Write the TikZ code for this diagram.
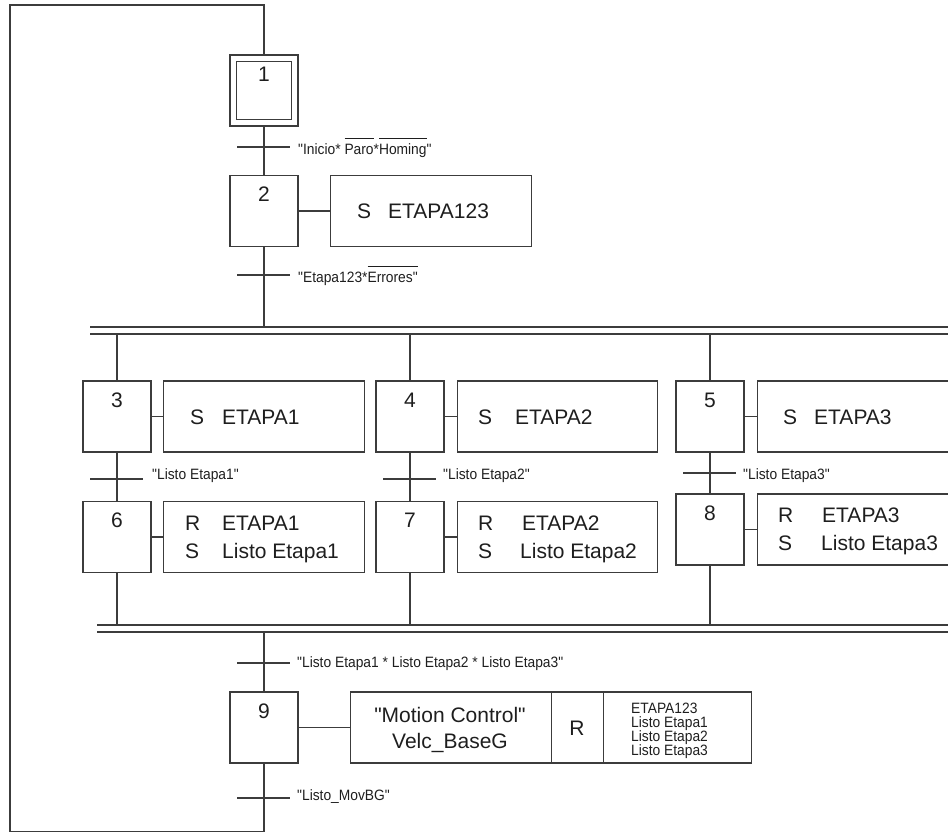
\documentclass[tikz,border=0pt]{standalone}
\usepackage{fontspec}
\setmainfont{Liberation Sans}[Ligatures=TeXOff]
\newfontfamily\narrowfont{Liberation Sans}[Ligatures=TeXOff, FakeStretch=0.92]
\definecolor{ln}{HTML}{3C3C3C}
\definecolor{tx}{HTML}{1E1E1E}
\newcommand\bigf{\fontsize{21}{25}\selectfont}
\newcommand\smallf{\narrowfont\fontsize{15}{15}\selectfont}
\newsavebox\ovlbox
\newcommand\ovl[2][16pt]{\sbox\ovlbox{#2}\rlap{\rule[#1]{\wd\ovlbox}{0.8pt}}\usebox\ovlbox}
\begin{document}
\begin{tikzpicture}[x=1pt,y=-1pt,
  wire/.style={draw=ln, line width=1.3pt},
  stepbox/.style={wire, rectangle, minimum width=68pt, minimum height=71pt, inner sep=0pt,
    text=tx, font=\bigf, text height=15pt, text depth=34pt},
  actbox/.style={wire, rectangle, anchor=west, minimum height=71pt, inner sep=0pt},
  big/.style={text=tx, font=\bigf, inner sep=0pt, anchor=base west},
  small/.style={text=tx, font=\smallf, inner sep=0pt, anchor=base west},
  tick/.style={wire}
]
\useasboundingbox (0,0) rectangle (948,833);
\begin{scope}
\clip (0,0) rectangle (948,833);

% ---------- steps ----------
\node[stepbox] (s1) at (264,90.5) {1};
\draw[wire] ([shift={(7pt,-7pt)}]s1.north west) rectangle ([shift={(-7pt,7pt)}]s1.south east);
\node[stepbox] (s2) at (264,211) {2};
\node[stepbox] (s3) at (117,416.5) {3};
\node[stepbox] (s4) at (410,416.5) {4};
\node[stepbox] (s5) at (710,416.5) {5};
\node[stepbox] (s6) at (117,537) {6};
\node[stepbox] (s7) at (410,537) {7};
\node[stepbox] (s8) at (710,529.5) {8};
\node[stepbox] (s9) at (264,727.5) {9};

% ---------- action boxes ----------
\node[actbox, minimum width=201pt] (a2) at (330,211) {};
\node[actbox, minimum width=201pt] (a3) at (163,416.5) {};
\node[actbox, minimum width=200pt] (a4) at (457,416.5) {};
\node[actbox, minimum width=220pt] (a5) at (757,416.5) {};
\node[actbox, minimum width=201pt] (a6) at (163,537) {};
\node[actbox, minimum width=200pt] (a7) at (457,537) {};
\node[actbox, minimum width=220pt] (a8) at (757,529.5) {};
\node[actbox, minimum width=201pt] (a9) at (350,727.5) {};
\node[actbox, minimum width=52pt] (a9r) at (551,727.5) {};
\node[actbox, minimum width=148pt] (a9l) at (603,727.5) {};

\foreach \s/\a in {s2/a2,s3/a3,s4/a4,s5/a5,s6/a6,s7/a7,s8/a8,s9/a9}
  \draw[wire] (\s.east) -- (\a.west);

% ---------- action texts ----------
\node[big] (x2a) at (357,218.5) {S};
\node[big] (x2b) at (388,218.5) {ETAPA123};
\node[big] (x3a) at (190,424) {S};
\node[big] (x3b) at (222,424) {ETAPA1};
\node[big] (x4a) at (478,424) {S};
\node[big] (x4b) at (515,424) {ETAPA2};
\node[big] (x5a) at (783,424) {S};
\node[big] (x5b) at (814,424) {ETAPA3};
\node[big] (x6a) at (185,530) {R};
\node[big] (x6b) at (222,530) {ETAPA1};
\node[big] (x6c) at (185,558) {S};
\node[big] (x6d) at (222,558) {Listo Etapa1};
\node[big] (x7a) at (478,530) {R};
\node[big] (x7b) at (522,530) {ETAPA2};
\node[big] (x7c) at (478,558) {S};
\node[big] (x7d) at (520,558) {Listo Etapa2};
\node[big] (x8a) at (778,522) {R};
\node[big] (x8b) at (822,522) {ETAPA3};
\node[big] (x8c) at (778,550) {S};
\node[big] (x8d) at (821,550) {Listo Etapa3};
\node[big, anchor=base] (x9a) at (450,722) {"Motion Control"};
\node[big, anchor=base] (x9b) at (450,748) {Velc\_BaseG};
\node[big, anchor=base] (x9r) at (577,735) {R};
\node[small] (x9c) at (631,713) {ETAPA123};
\node[small] (x9d) at (631,727) {Listo Etapa1};
\node[small] (x9e) at (631,741) {Listo Etapa2};
\node[small] (x9f) at (631,755) {Listo Etapa3};

% ---------- divergence / convergence bars ----------
\coordinate (ub1) at (90,327);
\coordinate (ub2) at (90,334);
\coordinate (lb1) at (97,625);
\coordinate (lb2) at (97,632);
\draw[wire] (ub1) -- (948,327);
\draw[wire] (ub2) -- (948,334);
\draw[wire] (lb1) -- (948,625);
\draw[wire] (lb2) -- (948,632);

% ---------- links ----------
\draw[wire] (s1.south) -- (s2.north);
\draw[wire] (s2.south) -- (s2.south |- ub1);
\foreach \s in {s3,s4,s5} \draw[wire] (\s.north |- ub2) -- (\s.north);
\draw[wire] (s3.south) -- (s6.north);
\draw[wire] (s4.south) -- (s7.north);
\draw[wire] (s5.south) -- (s8.north);
\foreach \s in {s6,s7,s8} \draw[wire] (\s.south) -- (\s.south |- lb1);
\draw[wire] (s9.north |- lb2) -- (s9.north);
\coordinate (bl) at (10,831.5);
\coordinate (tl) at (10,5);
\draw[wire] (s9.south) -- (s9.south |- bl) -- (bl) -- (tl) -- (tl -| s1.north) -- (s1.north);

% ---------- transitions ----------
\coordinate (t1) at (264,147);
\coordinate (t2) at (264,275);
\coordinate (t3) at (117,479);
\coordinate (t4) at (410,479);
\coordinate (t5) at (710,473);
\coordinate (t9) at (264,663);
\coordinate (t10) at (264,798);
\foreach \t in {t1,t2,t3,t4,t5,t9,t10}
  \draw[tick] ([xshift=-27pt]\t) -- ([xshift=26pt]\t);
\node[small] (l1) at ([xshift=34pt,yshift=-7pt]t1) {"Inicio* \ovl[15pt]{Paro}*\ovl[15pt]{Homing}"};
\node[small] (l2) at ([xshift=34pt,yshift=-7pt]t2) {"Etapa123*\ovl[15pt]{Errores"}};
\node[small] (l3) at ([xshift=35pt,yshift=0pt]t3) {"Listo Etapa1"};
\node[small] (l4) at ([xshift=33pt,yshift=0pt]t4) {"Listo Etapa2"};
\node[small] (l5) at ([xshift=33pt,yshift=-6pt]t5) {"Listo Etapa3"};
\node[small] (l9) at ([xshift=33pt,yshift=-4pt]t9) {"Listo Etapa1 * Listo Etapa2 * Listo Etapa3"};
\node[small] (l10) at ([xshift=33pt,yshift=-2pt]t10) {"Listo\_MovBG"};
\end{scope}
\end{tikzpicture}
\end{document}
